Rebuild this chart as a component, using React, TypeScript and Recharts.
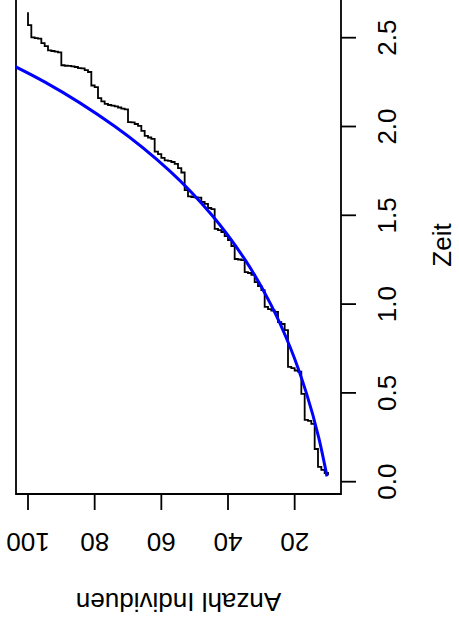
import React from 'react';
import { LineChart, Line, XAxis, YAxis, ReferenceArea, Label } from 'recharts';

// Step function: event times (Zeit) and counts (Anzahl Individuen)
const stepTimes = [
  0.038, 0.049, 0.066, 0.083, 0.184, 0.325, 0.342, 0.348, 0.494, 0.620,
  0.626, 0.640, 0.646, 0.854, 0.888, 0.899, 0.956, 0.964, 0.972, 0.984,
  1.079, 1.102, 1.124, 1.164, 1.175, 1.180, 1.248, 1.251, 1.254, 1.327,
  1.361, 1.383, 1.406, 1.417, 1.423, 1.535, 1.541, 1.564, 1.575, 1.599,
  1.601, 1.603, 1.606, 1.642, 1.741, 1.766, 1.789, 1.800, 1.806, 1.809,
  1.823, 1.845, 1.859, 1.930, 1.938, 1.947, 1.975, 2.003, 2.014, 2.023,
  2.025, 2.096, 2.101, 2.107, 2.113, 2.118, 2.121, 2.127, 2.141, 2.160,
  2.222, 2.231, 2.307, 2.318, 2.327, 2.329, 2.335, 2.338, 2.341, 2.342,
  2.345, 2.417, 2.422, 2.425, 2.429, 2.453, 2.470, 2.495, 2.498, 2.502,
  2.571, 2.643,
];
const stepCounts = [
  10, 11, 12, 13, 14, 15, 16, 17, 18, 19,
  20, 21, 22, 23, 24, 25, 26, 27, 28, 29,
  30, 31, 32, 33, 34, 35, 36, 37, 38, 39,
  40, 41, 42, 43, 44, 45, 46, 47, 48, 49,
  50, 51, 52, 53, 54, 55, 56, 57, 58, 59,
  60, 61, 62, 63, 64, 65, 66, 67, 68, 69,
  70, 71, 72, 73, 74, 75, 76, 77, 78, 79,
  80, 81, 82, 83, 84, 85, 86, 87, 88, 89,
  90, 91, 92, 93, 94, 95, 96, 97, 98, 99,
  100, 100,
];

// Smooth (blue) curve
const curveTimes = [0.03, 0.25, 0.5, 0.75, 1.0, 1.25, 1.5, 1.75, 2.0, 2.25, 2.5];
const curveCounts = [10.3, 12.8, 16.5, 21.2, 27.2, 34.9, 44.8, 57.5, 73.9, 94.9, 121.8];

const countTicks = [20, 40, 60, 80, 100];
const zeitTicks = [0, 0.5, 1, 1.5, 2, 2.5];
const countLabel = 'Anzahl Individuen';
const zeitLabel = 'Zeit';

const stepData = stepTimes.map((t, i) => ({ t, n: stepCounts[i] }));
const curveData = curveTimes.map((t, i) => ({ t, n: curveCounts[i] }));

const FONT = '"Liberation Sans", Arial, Helvetica, sans-serif';
const FS = 26;
const COUNT_DOMAIN: [number, number] = [6.1, 103.6];
const ZEIT_DOMAIN: [number, number] = [-0.0693, 2.7123];

const BottomTick = (props: any) => {
  const { x, y, payload } = props;
  return (
    <text
      x={x}
      y={y}
      transform={`rotate(180 ${x} ${y})`}
      textAnchor="middle"
      dominantBaseline="central"
      fontFamily={FONT}
      fontSize={FS}
      fill="#000"
    >
      {payload.value}
    </text>
  );
};

const RightTick = (props: any) => {
  const { x, y, payload } = props;
  return (
    <text
      x={x}
      y={y}
      transform={`rotate(-90 ${x} ${y})`}
      textAnchor="middle"
      dominantBaseline="central"
      fontFamily={FONT}
      fontSize={FS}
      fill="#000"
    >
      {Number(payload.value).toFixed(1)}
    </text>
  );
};

const BottomTitle = (props: any) => {
  const vb = props.viewBox || { x: 16, y: 494, width: 325, height: 132 };
  const cx = vb.x + vb.width / 2;
  const cy = vb.y + 107.7;
  return (
    <text
      x={cx}
      y={cy}
      transform={`rotate(180 ${cx} ${cy})`}
      textAnchor="middle"
      dominantBaseline="central"
      fontFamily={FONT}
      fontSize={FS}
      fill="#000"
    >
      {countLabel}
    </text>
  );
};

const RightTitle = (props: any) => {
  const vb = props.viewBox || { x: 341, y: 0, width: 118, height: 494 };
  const cx = vb.x + 101;
  const cy = vb.y + vb.height / 2 - 2;
  return (
    <text
      x={cx}
      y={cy}
      transform={`rotate(-90 ${cx} ${cy})`}
      textAnchor="middle"
      dominantBaseline="central"
      fontFamily={FONT}
      fontSize={FS}
      fill="#000"
    >
      {zeitLabel}
    </text>
  );
};

export default function App() {
  return (
    <div style={{ position: 'absolute', left: 0, top: 0, width: 459, height: 626, background: '#fff' }}>
      <LineChart
        width={459}
        height={626}
        layout="vertical"
        margin={{ top: 0, right: 0, bottom: 0, left: 16 }}
      >
        <XAxis
          type="number"
          dataKey="n"
          domain={COUNT_DOMAIN}
          reversed
          allowDataOverflow
          ticks={countTicks}
          height={132}
          tickSize={16}
          tickMargin={31.7}
          axisLine={false}
          tickLine={{ stroke: '#000', strokeWidth: 1.8 }}
          tick={<BottomTick />}
          interval={0}
        >
          <Label content={<BottomTitle />} />
        </XAxis>
        <YAxis
          type="number"
          dataKey="t"
          orientation="right"
          domain={ZEIT_DOMAIN}
          reversed
          allowDataOverflow
          ticks={zeitTicks}
          width={118}
          tickSize={15}
          tickMargin={30.7}
          axisLine={false}
          tickLine={{ stroke: '#000', strokeWidth: 1.8 }}
          tick={<RightTick />}
          interval={0}
        >
          <Label content={<RightTitle />} />
        </YAxis>
        <ReferenceArea
          x1={COUNT_DOMAIN[0]}
          x2={COUNT_DOMAIN[1]}
          y1={ZEIT_DOMAIN[0]}
          y2={2.8}
          fill="none"
          fillOpacity={0}
          stroke="#000"
          strokeWidth={1.8}
          ifOverflow="visible"
        />
        <Line
          data={stepData}
          dataKey="n"
          type="stepBefore"
          stroke="#000"
          strokeWidth={1.8}
          dot={false}
          activeDot={false}
          isAnimationActive={false}
        />
        <Line
          data={curveData}
          dataKey="n"
          type="monotone"
          stroke="#0000ff"
          strokeWidth={3}
          dot={false}
          activeDot={false}
          isAnimationActive={false}
        />
      </LineChart>
    </div>
  );
}
